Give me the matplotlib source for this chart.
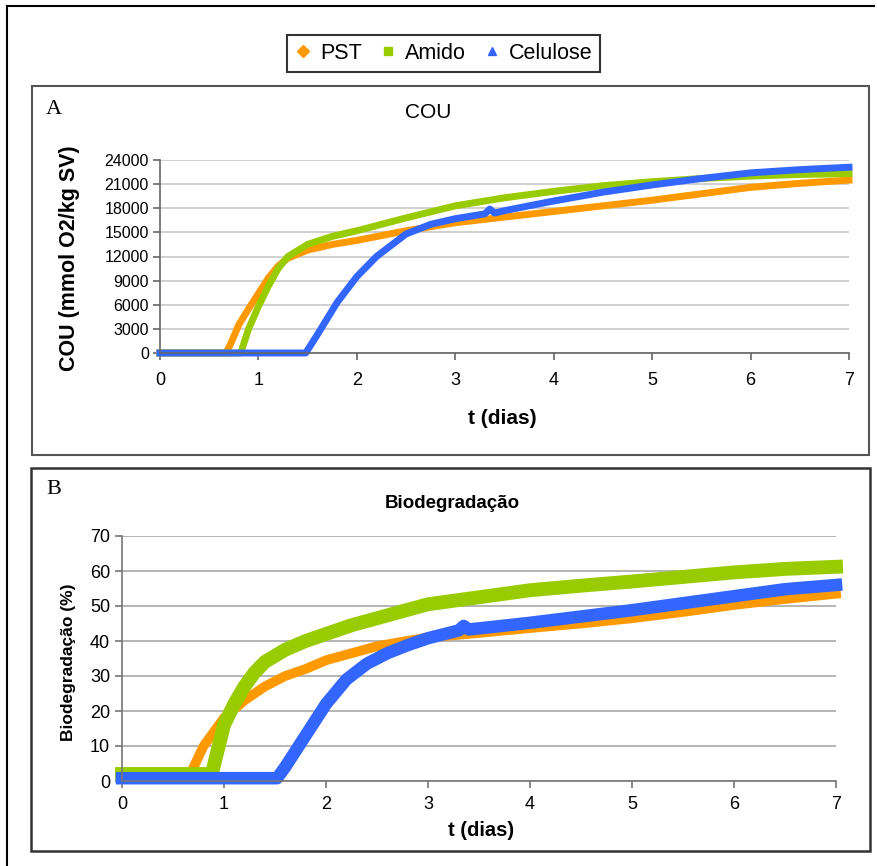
import matplotlib
matplotlib.use("Agg")
import matplotlib.pyplot as plt
from matplotlib.lines import Line2D
from matplotlib.patches import Rectangle

# cores das series (estilo Excel)
cores = {"PST": "#ff9900", "Amido": "#99cc00", "Celulose": "#3366ff"}
series = ["PST", "Amido", "Celulose"]
marcadores = {"PST": "D", "Amido": "s", "Celulose": "^"}

# ---- Painel A: COU (mmol O2/kg SV) ----
t_pst_a = [0, 0.5, 0.67, 0.72, 0.8, 0.9, 1.0, 1.1, 1.2, 1.3, 1.5, 1.75, 2.0, 2.5, 3.0, 3.5, 4.0, 4.5, 5.0, 5.5, 6.0, 6.5, 7.0]
cou_pst = [0, 0, 0, 1200, 3500, 5500, 7400, 9300, 10800, 11800, 12800, 13500, 14000, 15200, 16200, 16900, 17600, 18300, 19000, 19800, 20600, 21100, 21500]

t_amido_a = [0, 0.5, 0.82, 0.9, 1.0, 1.1, 1.2, 1.3, 1.5, 1.75, 2.0, 2.5, 3.0, 3.5, 4.0, 4.5, 5.0, 5.5, 6.0, 6.5, 7.0]
cou_amido = [0, 0, 0, 3000, 5800, 8300, 10500, 12000, 13500, 14500, 15200, 16800, 18300, 19300, 20100, 20800, 21300, 21700, 22000, 22200, 22300]

t_cel_a = [0, 0.5, 1.0, 1.48, 1.6, 1.8, 2.0, 2.2, 2.5, 2.75, 3.0, 3.3, 3.35, 3.4, 3.5, 4.0, 4.5, 5.0, 5.5, 6.0, 6.5, 7.0]
cou_cel = [0, 0, 0, 0, 2300, 6300, 9500, 12000, 14800, 16000, 16700, 17300, 17900, 17400, 17700, 18900, 20000, 20900, 21700, 22400, 22800, 23100]

# ---- Painel B: Biodegradacao (%) ----
t_pst_b = [0, 0.5, 0.67, 0.8, 0.9, 1.0, 1.2, 1.4, 1.6, 1.8, 2.0, 2.25, 2.5, 2.75, 3.0, 3.5, 4.0, 4.5, 5.0, 5.5, 6.0, 6.5, 7.0]
bio_pst = [2, 2, 2, 10, 14, 18, 23, 27, 30, 32, 34.5, 36.5, 38.5, 39.8, 41, 42.3, 43.7, 45, 46.5, 48.3, 50.3, 52, 53.5]

t_amido_b = [0, 0.5, 0.88, 1.0, 1.1, 1.2, 1.3, 1.4, 1.6, 1.8, 2.0, 2.25, 2.5, 2.75, 3.0, 3.5, 4.0, 4.5, 5.0, 5.5, 6.0, 6.5, 7.0]
bio_amido = [2, 2, 2, 16, 22, 27, 31, 34, 37.5, 40, 42, 44.5, 46.5, 48.5, 50.5, 52.5, 54.5, 55.8, 57, 58.3, 59.6, 60.6, 61.2]

t_cel_b = [0, 0.5, 1.0, 1.52, 1.6, 1.8, 2.0, 2.2, 2.4, 2.6, 2.8, 3.0, 3.3, 3.35, 3.4, 3.5, 4.0, 4.5, 5.0, 5.5, 6.0, 6.5, 7.0]
bio_cel = [0.8, 0.8, 0.8, 0.8, 4, 13, 22, 29, 33.5, 36.5, 38.8, 40.8, 43, 44.3, 43.3, 43.6, 45.2, 47, 48.8, 50.8, 52.8, 54.8, 56]

W, H = 878, 866
fig = plt.figure(figsize=(W / 100, H / 100), dpi=100)


def fx(px):
    return px / W


def fy(py):
    return 1 - py / H


def caixa(x0, y0, x1, y1, cor, lw):
    fig.patches.append(Rectangle((fx(x0), fy(y1)), fx(x1) - fx(x0), fy(y0) - fy(y1),
                                 transform=fig.transFigure, fill=False, edgecolor=cor, linewidth=lw))


# molduras
fig.add_artist(Line2D([fx(7), fx(7)], [fy(6), 0], transform=fig.transFigure, color="black", lw=1.5))
fig.add_artist(Line2D([fx(7), fx(874)], [fy(6), fy(6)], transform=fig.transFigure, color="black", lw=1.5))
caixa(32, 86, 869, 455, "#555555", 1.5)
caixa(31, 468, 870, 851, "#333333", 1.8)

arial = ["Liberation Sans", "DejaVu Sans"]
serif = ["Liberation Serif", "DejaVu Serif"]


def estilo(ax, grid_cor, spine_cor):
    ax.set_xlim(0, 7)
    for s in ["top", "right"]:
        ax.spines[s].set_visible(False)
    for s in ["left", "bottom"]:
        ax.spines[s].set_color(spine_cor)
        ax.spines[s].set_linewidth(1.2)
    ax.yaxis.grid(True, color=grid_cor, linewidth=1.2)
    ax.set_axisbelow(True)
    ax.tick_params(direction="out", length=5, width=1.2, color=spine_cor)
    ax.set_xticks(range(0, 8))


# ---- Painel A ----
axA = fig.add_axes([fx(160), fy(353), fx(849) - fx(160), fy(160) - fy(353)])
estilo(axA, "#c8c8c8", "#666666")
axA.set_ylim(0, 24000)
axA.set_yticks(range(0, 24001, 3000))
dadosA = {"PST": (t_pst_a, cou_pst), "Amido": (t_amido_a, cou_amido), "Celulose": (t_cel_a, cou_cel)}
for nome in series:
    tt, yy = dadosA[nome]
    axA.plot(tt, yy, color=cores[nome], lw=5, clip_on=False, solid_joinstyle="round")
for lb in axA.get_yticklabels():
    lb.set_family(arial)
    lb.set_fontsize(11.5)
for lb in axA.get_xticklabels():
    lb.set_family(arial)
    lb.set_fontsize(13)
axA.tick_params(axis="x", pad=9)
axA.tick_params(axis="y", pad=3)

fig.text(fx(54), fy(109), "A", family=serif, fontsize=16, ha="center", va="center")
fig.text(fx(428), fy(113), "COU", family=arial, fontsize=15, ha="center", va="center")
fig.text(fx(69), fy(258), "COU (mmol O2/kg SV)", family=arial, fontsize=15.5, fontweight="bold",
         rotation=90, ha="center", va="center")
fig.text(fx(502), fy(419), "t (dias)", family=arial, fontsize=15, fontweight="bold",
         ha="center", va="center")

# ---- Painel B ----
axB = fig.add_axes([fx(122), fy(781), fx(836) - fx(122), fy(536) - fy(781)])
estilo(axB, "#a8a8a8", "#777777")
axB.set_ylim(0, 70)
axB.set_yticks(range(0, 71, 10))
dadosB = {"PST": (t_pst_b, bio_pst, 7), "Amido": (t_amido_b, bio_amido, 10), "Celulose": (t_cel_b, bio_cel, 9)}
for nome in series:
    tt, yy, lw = dadosB[nome]
    axB.plot(tt, yy, color=cores[nome], lw=lw, clip_on=False, solid_joinstyle="round")
for lb in axB.get_yticklabels():
    lb.set_family(arial)
    lb.set_fontsize(13)
for lb in axB.get_xticklabels():
    lb.set_family(arial)
    lb.set_fontsize(13)
axB.tick_params(axis="x", pad=6)

fig.text(fx(54), fy(489), "B", family=serif, fontsize=16, ha="center", va="center")
fig.text(fx(452), fy(503), "Biodegradação", family=arial, fontsize=13.5, fontweight="bold",
         ha="center", va="center")
fig.text(fx(68), fy(662), "Biodegradação (%)", family=arial, fontsize=12.5, fontweight="bold",
         rotation=90, ha="center", va="center")
fig.text(fx(481), fy(830), "t (dias)", family=arial, fontsize=14.5, fontweight="bold",
         ha="center", va="center")

# ---- Legenda ----
handles = [Line2D([], [], linestyle="none", marker=marcadores[n], color=cores[n], markersize=6)
           for n in series]
leg = fig.legend(handles, series, loc="center", bbox_to_anchor=(fx(443.5), fy(53.5)), ncol=3,
                 frameon=True, fancybox=False, prop={"family": arial, "size": 15.5},
                 handlelength=0.8, handletextpad=0.4, columnspacing=0.8, borderpad=0.35)
leg.get_frame().set_edgecolor("black")
leg.get_frame().set_linewidth(1.5)

fig.savefig("out.png", dpi=100)
